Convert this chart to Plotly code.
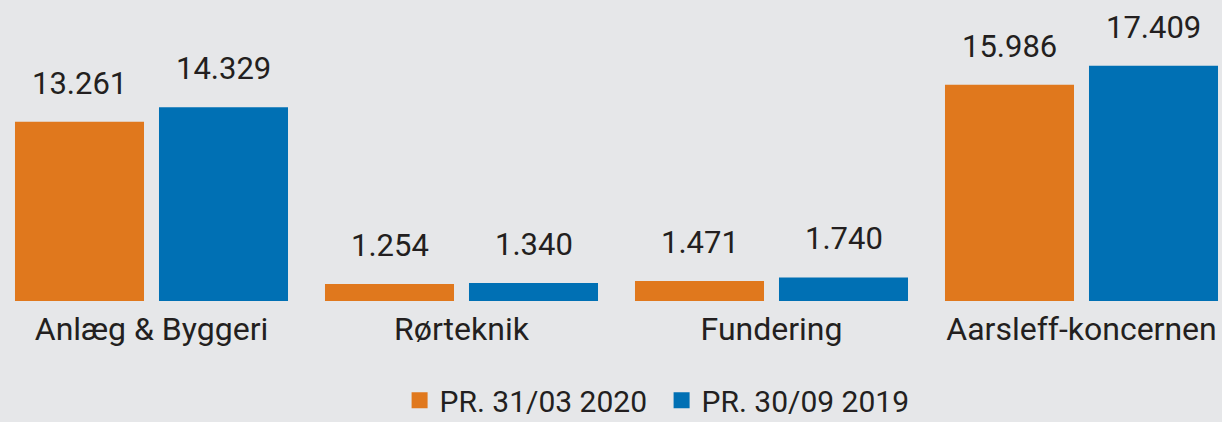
import plotly.graph_objects as go

categories = ["Anlæg & Byggeri", "Rørteknik", "Fundering", "Aarsleff-koncernen"]
series_names = ["PR. 31/03 2020", "PR. 30/09 2019"]
values_2020 = [13261, 1254, 1471, 15986]
values_2019 = [14329, 1340, 1740, 17409]
colors = ["#e0781d", "#0070b4"]

FONT = "Roboto, sans-serif"
TXT = "#231f20"
BG = "#e6e7e9"

def fmt(v):
    return f"{v:,}".replace(",", ".")

x = list(range(len(categories)))
fig = go.Figure()
for name, vals, col in zip(series_names, [values_2020, values_2019], colors):
    fig.add_trace(go.Bar(x=x, y=vals, name=name, marker=dict(color=col, line=dict(width=0)),
                         showlegend=False, hoverinfo="skip"))
    fig.add_trace(go.Scatter(x=[None], y=[None], mode="markers", name=name,
                             marker=dict(symbol="square", size=22, color=col)))

bargap = 0.071
groupgap = 0.104
n = 2
slot = (1 - bargap) / n
for i, vals in enumerate([values_2020, values_2019]):
    off = -(1 - bargap) / 2 + slot * (i + 0.5)
    for xi, v in zip(x, vals):
        fig.add_annotation(x=xi + off, y=v, text=fmt(v), showarrow=False,
                           yanchor="bottom", yshift=18,
                           font=dict(family=FONT, size=31, color=TXT))

fig.update_layout(
    width=1222, height=422,
    barmode="group", bargap=bargap, bargroupgap=groupgap,
    paper_bgcolor=BG, plot_bgcolor=BG,
    margin=dict(l=0, r=0, t=0, b=121, autoexpand=False),
    font=dict(family=FONT, size=31, color=TXT),
    legend=dict(orientation="h", x=0.327, xanchor="left", y=-0.33, yanchor="middle",
                font=dict(family=FONT, size=30, color=TXT), bgcolor="rgba(0,0,0,0)",
                itemsizing="trace", tracegroupgap=0, entrywidth=217, entrywidthmode="pixels"),
    xaxis=dict(range=[-151.5 / 310, (1222 - 151.5) / 310], tickvals=x, ticktext=categories,
               showgrid=False, zeroline=False, showline=False, ticks="", automargin=False,
               ticklabelstandoff=6, tickfont=dict(family=FONT, size=32, color=TXT)),
    yaxis=dict(range=[0, 301 / 0.01352], visible=False, showgrid=False, zeroline=False),
)

fig.write_html("out.html", config={"displayModeBar": False},
               post_script="document.body.style.margin='0';document.body.style.overflow='hidden';")
